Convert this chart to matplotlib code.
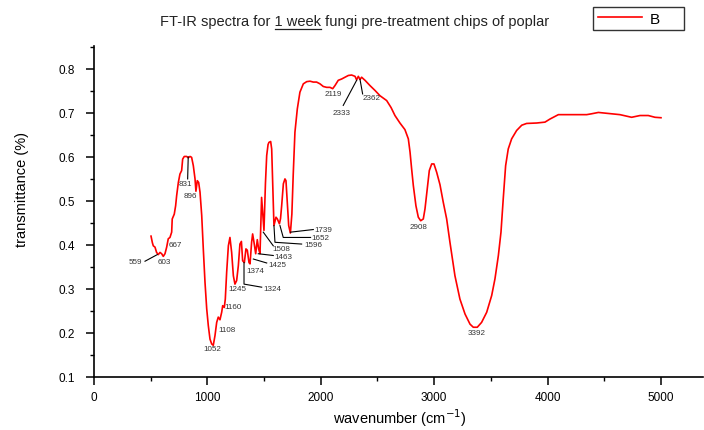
import numpy as np
import matplotlib
matplotlib.use('Agg')
import matplotlib.pyplot as plt
from matplotlib.lines import Line2D

plt.rcParams['font.family'] = ['Liberation Sans', 'DejaVu Sans']

# spectrum
wavenumber = [503, 515, 523, 538, 552, 567, 582, 597, 611, 626, 641, 655, 670, 685, 690,
              708, 720, 729, 744, 758, 773, 782, 796, 817, 831, 847, 861, 876, 891, 899,
              911, 923, 935, 950, 964, 979, 994, 1008, 1023, 1038, 1052, 1067, 1082, 1096,
              1111, 1126, 1135, 1149, 1158, 1170, 1185, 1199, 1214, 1229, 1243, 1258, 1273,
              1287, 1300, 1311, 1326, 1340, 1352, 1367, 1376, 1390, 1399, 1411, 1426, 1440,
              1452, 1464, 1478, 1499, 1512, 1523, 1535, 1543, 1558, 1567, 1575, 1587, 1598,
              1605, 1617, 1635, 1645, 1655, 1670, 1684, 1693, 1705, 1717, 1732, 1745, 1757,
              1772, 1793, 1816, 1846, 1876, 1905, 1934, 1963, 1993, 2022, 2052, 2081, 2105,
              2125, 2154, 2184, 2213, 2243, 2272, 2302, 2316, 2331, 2346, 2360, 2390, 2434,
              2478, 2522, 2581, 2620, 2654, 2698, 2742, 2772, 2787, 2801, 2816, 2839, 2860,
              2881, 2904, 2919, 2939, 2957, 2978, 2998, 3022, 3051, 3080, 3110, 3139, 3183,
              3227, 3272, 3316, 3345, 3380, 3418, 3463, 3507, 3536, 3566, 3589, 3609, 3630,
              3653, 3683, 3727, 3772, 3815, 3904, 3977, 4021, 4095, 4168, 4257, 4345, 4389,
              4448, 4521, 4638, 4741, 4815, 4888, 4947, 5000]
transmittance = [0.420, 0.405, 0.398, 0.395, 0.383, 0.378, 0.383, 0.380, 0.374, 0.380, 0.395,
                 0.414, 0.417, 0.429, 0.459, 0.470, 0.489, 0.512, 0.542, 0.561, 0.569, 0.595,
                 0.601, 0.601, 0.598, 0.601, 0.599, 0.580, 0.550, 0.522, 0.546, 0.542, 0.520,
                 0.467, 0.391, 0.315, 0.255, 0.217, 0.186, 0.175, 0.172, 0.194, 0.224, 0.236,
                 0.230, 0.247, 0.262, 0.258, 0.277, 0.338, 0.398, 0.417, 0.383, 0.330, 0.311,
                 0.319, 0.353, 0.402, 0.408, 0.364, 0.360, 0.391, 0.388, 0.360, 0.357, 0.406,
                 0.425, 0.406, 0.380, 0.412, 0.391, 0.380, 0.508, 0.433, 0.540, 0.603, 0.628,
                 0.633, 0.635, 0.618, 0.550, 0.444, 0.455, 0.463, 0.459, 0.448, 0.460, 0.489,
                 0.539, 0.550, 0.546, 0.497, 0.444, 0.427, 0.470, 0.560, 0.656, 0.709, 0.747,
                 0.766, 0.771, 0.772, 0.770, 0.770, 0.766, 0.760, 0.758, 0.758, 0.755, 0.762,
                 0.774, 0.777, 0.781, 0.785, 0.786, 0.783, 0.775, 0.783, 0.776, 0.781, 0.774,
                 0.762, 0.751, 0.739, 0.728, 0.712, 0.694, 0.677, 0.662, 0.641, 0.611, 0.573,
                 0.535, 0.489, 0.463, 0.455, 0.459, 0.482, 0.527, 0.569, 0.584, 0.584, 0.565,
                 0.537, 0.497, 0.459, 0.406, 0.330, 0.277, 0.243, 0.220, 0.213, 0.213, 0.224,
                 0.247, 0.285, 0.323, 0.376, 0.429, 0.505, 0.580, 0.618, 0.641, 0.660, 0.672,
                 0.676, 0.677, 0.679, 0.686, 0.696, 0.696, 0.696, 0.696, 0.698, 0.701, 0.699,
                 0.696, 0.690, 0.694, 0.694, 0.690, 0.689]

peak_labels = ['559', '603', '667', '831', '896', '1052', '1108', '1160', '1245', '1324',
               '1374', '1425', '1463', '1508', '1596', '1652', '1739', '2119', '2333',
               '2362', '2908', '3392']

# label placement (x, y, ha) and leader lines, in data units
label_pos = [(366, 0.363, 'center'), (622, 0.363, 'center'), (714, 0.400, 'center'),
             (807, 0.539, 'center'), (851, 0.513, 'center'), (1040, 0.164, 'center'),
             (1173, 0.209, 'center'), (1226, 0.259, 'center'), (1261, 0.300, 'center'),
             (1490, 0.302, 'left'), (1420, 0.341, 'center'), (1534, 0.355, 'left'),
             (1587, 0.374, 'left'), (1570, 0.393, 'left'), (1852, 0.400, 'left'),
             (1914, 0.416, 'left'), (1940, 0.434, 'left'), (2108, 0.743, 'center'),
             (2187, 0.701, 'center'), (2451, 0.734, 'center'), (2862, 0.443, 'center'),
             (3373, 0.202, 'center')]
leaders = [
    ([450, 558], [0.363, 0.378]),
    ([826, 831], [0.550, 0.600]),
    ([1323, 1323, 1479], [0.360, 0.311, 0.304]),
    ([1405, 1523], [0.368, 0.359]),
    ([1449, 1581], [0.380, 0.376]),
    ([1493, 1581], [0.429, 0.398]),
    ([1587, 1596, 1831], [0.444, 0.406, 0.402]),
    ([1640, 1669, 1910], [0.444, 0.417, 0.417]),
    ([1732, 1934], [0.429, 0.435]),
    ([2198, 2316], [0.717, 0.774]),
    ([2369, 2346], [0.743, 0.776]),
]

fig = plt.figure(figsize=(7.04, 4.31), dpi=100)
ax = fig.add_axes([0.1335, 0.123, 0.865, 0.768])

ax.plot(wavenumber, transmittance, color='red', linewidth=1.2, label='B')

for lx, ly in leaders:
    ax.plot(lx, ly, color='black', linewidth=0.8)
for txt, (tx, ty, ha) in zip(peak_labels, label_pos):
    ax.text(tx, ty, txt, fontsize=5.8, ha=ha, va='center', color='#333333')

ax.set_xlim(0, 5370)
ax.set_ylim(0.1, 0.852)
ax.set_xticks(np.arange(0, 5001, 1000))
ax.set_xticks(np.arange(500, 5400, 1000), minor=True)
ax.set_yticks(np.arange(0.1, 0.81, 0.1))
ax.set_yticks(np.arange(0.15, 0.86, 0.1), minor=True)
ax.set_yticklabels(['%.1f' % v for v in np.arange(0.1, 0.81, 0.1)])
ax.spines['top'].set_visible(False)
ax.spines['right'].set_visible(False)
for s in ['left', 'bottom']:
    ax.spines[s].set_linewidth(1.2)
ax.tick_params(which='major', direction='out', length=6, width=1.1, labelsize=8.5)
ax.tick_params(which='minor', direction='out', length=3, width=1.0)
ax.tick_params(axis='y', which='major', pad=8)
ax.tick_params(axis='x', which='major', pad=4)

ax.set_xlabel('wavenumber (cm$^{-1}$)', fontsize=10.5)
ax.xaxis.set_label_coords(0.502, -0.09)
ax.set_ylabel('transmittance (%)', fontsize=10.5)
ax.yaxis.set_label_coords(-0.107, 0.568)

leg = ax.legend(loc='upper left', bbox_to_anchor=(593 / 704, 1 - 8 / 431, 91 / 704, 0.0),
                bbox_transform=fig.transFigure, mode='expand',
                fontsize=11, frameon=True, fancybox=False, handlelength=2.9,
                borderpad=0.3, handletextpad=0.5, borderaxespad=0)
leg.get_frame().set_edgecolor('black')
leg.get_frame().set_linewidth(1.0)

title = 'FT-IR spectra for 1 week fungi pre-treatment chips of poplar'
tt = fig.text(355 / 704, 1 - 22 / 431, title, fontsize=10.5, ha='center', va='center',
              color='#222222')

# underline "1 week"
fig.canvas.draw()
r = fig.canvas.get_renderer()
prop = tt.get_fontproperties()
w_end = r.get_text_width_height_descent('FT-IR spectra for 1 week', prop, ismath=False)[0]
w_seg = r.get_text_width_height_descent('1 week', prop, ismath=False)[0]
bb = tt.get_window_extent(r)
x0 = bb.x0 + w_end - w_seg
x1 = bb.x0 + w_end
yy = bb.y0 - 1
inv = fig.transFigure.inverted()
(fx0, fy), (fx1, _) = inv.transform([(x0, yy), (x1, yy)])
fig.add_artist(Line2D([fx0, fx1], [fy, fy], color='#222222', linewidth=0.9,
                      transform=fig.transFigure))

fig.savefig('out.png', dpi=100)
